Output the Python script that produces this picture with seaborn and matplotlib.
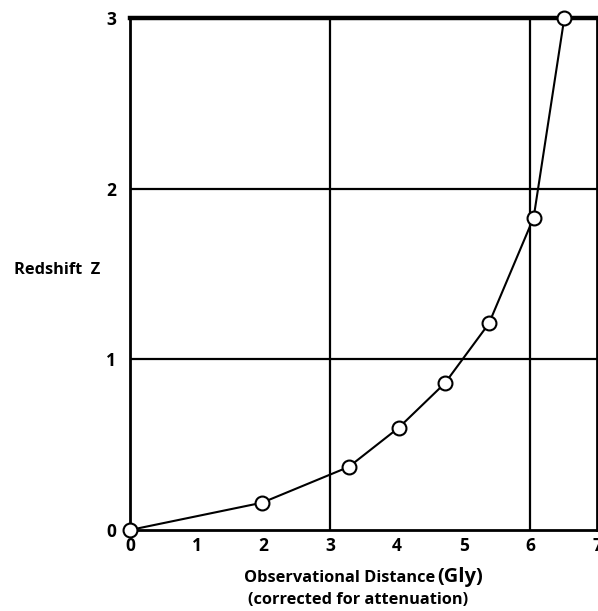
import matplotlib
matplotlib.use("Agg")
import matplotlib.pyplot as plt
import seaborn as sns
import pandas as pd

distance = [0.0, 1.98, 3.28, 4.03, 4.72, 5.38, 6.05, 6.51]
redshift = [0.0, 0.16, 0.37, 0.60, 0.86, 1.21, 1.83, 3.0]
x_ticks = [0, 1, 2, 3, 4, 5, 6, 7]
y_ticks = [0, 1, 2, 3]

sns.set_theme(style="white")
plt.rcParams['font.family'] = ['Open Sans', 'DejaVu Sans']
plt.rcParams['text.color'] = 'black'
plt.rcParams['xtick.color'] = 'black'
plt.rcParams['ytick.color'] = 'black'

df = pd.DataFrame({"distance": distance, "redshift": redshift})

fig = plt.figure(figsize=(5.98, 6.11), dpi=100)
ax = fig.add_axes([130/598, 1-530/611, (597-130)/598, (530-18)/611])

for xv in [3, 6]:
    ax.axvline(xv, color="black", lw=1.6, zorder=1)
for yv in [1, 2]:
    ax.axhline(yv, color="black", lw=1.6, zorder=1)

sns.lineplot(data=df, x="distance", y="redshift", ax=ax, color="black", lw=1.5,
             marker="o", markersize=10, markerfacecolor="white",
             markeredgecolor="black", markeredgewidth=1.5, zorder=3, clip_on=False)

ax.set_xlim(0, 7)
ax.set_ylim(0, 3)
ax.set_xticks(x_ticks)
ax.set_yticks(y_ticks)
ax.set_xticklabels([str(t) for t in x_ticks], fontsize=12.5, fontweight="bold",
                   color="black")
ax.set_yticklabels([str(t) for t in y_ticks], fontsize=12.5, fontweight="bold",
                   color="black")
ax.tick_params(axis="x", length=0, pad=5)
ax.tick_params(axis="y", length=0, pad=10)

for side in ["left", "bottom", "right"]:
    ax.spines[side].set_color("black")
    ax.spines[side].set_linewidth(2)
ax.spines["top"].set_color("black")
ax.spines["top"].set_linewidth(3.2)

ax.set_xlabel("")
ax.set_ylabel("")

fig.text(57/598, 1-270/611, "Redshift  Z", fontsize=11.8, fontweight="bold",
         ha="center", va="center", color="black")
fig.text(435/598, 1-578/611, "Observational Distance", fontsize=11.8,
         fontweight="bold", ha="right", va="center", color="black")
fig.text(437/598, 1-577/611, "(Gly)", fontsize=14.5, fontweight="bold",
         ha="left", va="center", color="black")
fig.text(358/598, 1-600/611, "(corrected for attenuation)", fontsize=11.8,
         fontweight="bold", ha="center", va="center", color="black")

fig.savefig("out.png", dpi=100)
